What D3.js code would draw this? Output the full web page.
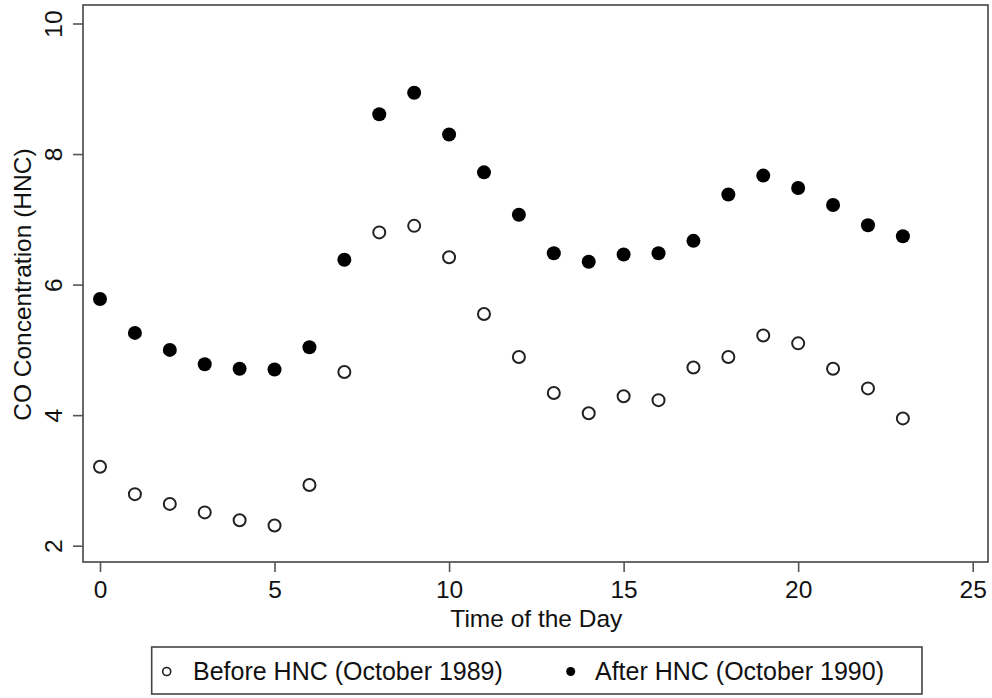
<!DOCTYPE html>
<html>
<head>
<meta charset="utf-8">
<script src="https://cdn.jsdelivr.net/npm/d3@7"></script>
<style>
    body { margin: 0; background: #fff; }
    text { font-family: "Liberation Sans", Arial, sans-serif; fill: #111; }
</style>
</head>
<body>
<div id="chart-ctn"></div>
<script>
// Data
let hours = [0, 1, 2, 3, 4, 5, 6, 7, 8, 9, 10, 11, 12, 13, 14, 15, 16, 17, 18, 19, 20, 21, 22, 23];
let before = [3.21, 2.79, 2.64, 2.51, 2.39, 2.31, 2.93, 4.66, 6.80, 6.90, 6.42, 5.55,
    4.89, 4.34, 4.03, 4.29, 4.23, 4.73, 4.89, 5.22, 5.10, 4.71, 4.41, 3.95];
let after = [5.78, 5.26, 5.00, 4.78, 4.71, 4.70, 5.04, 6.38, 8.61, 8.94, 8.30, 7.72,
    7.07, 6.48, 6.35, 6.46, 6.48, 6.67, 7.38, 7.67, 7.48, 7.22, 6.91, 6.74];
let xTicks = [0, 5, 10, 15, 20, 25];
let yTicks = [2, 4, 6, 8, 10];
let legendLabels = ["Before HNC (October 1989)", "After HNC (October 1990)"];

let width = 992;
let height = 698;

// plot region (frame)
let frame = { left: 83, right: 988, top: 5, bottom: 562 };

let svg = d3
    .select("#chart-ctn")
    .append("svg")
    .attr("width", width)
    .attr("height", height);

let x = d3.scaleLinear().domain([0, 25]).range([100, 972.7]);
let y = d3.scaleLinear().domain([2, 10]).range([545.7, 23.5]);

// frame
svg.append("rect")
    .attr("x", frame.left)
    .attr("y", frame.top)
    .attr("width", frame.right - frame.left)
    .attr("height", frame.bottom - frame.top)
    .attr("fill", "none")
    .attr("stroke", "#444")
    .attr("stroke-width", 1.6);

// y axis
let yAxis = svg.append("g")
    .attr("transform", `translate(${frame.left},0)`)
    .call(d3.axisLeft(y).tickValues(yTicks).tickSize(10).tickSizeOuter(0).tickFormat(d3.format("d")));
yAxis.select(".domain").remove();
yAxis.selectAll(".tick line").attr("stroke", "#555").attr("stroke-width", 1.6);
yAxis.selectAll(".tick text")
    .attr("x", null)
    .attr("dy", null)
    .attr("transform", "translate(-21,0) rotate(-90)")
    .attr("text-anchor", "middle")
    .style("font-size", "24.5px")
    .style("font-family", null)
    .attr("fill", "#111");

// x axis
let xAxis = svg.append("g")
    .attr("transform", `translate(0,${frame.bottom})`)
    .call(d3.axisBottom(x).tickValues(xTicks).tickSize(10).tickSizeOuter(0));
xAxis.select(".domain").remove();
xAxis.selectAll(".tick line").attr("stroke", "#555").attr("stroke-width", 1.6);
xAxis.selectAll(".tick text")
    .attr("y", 36)
    .attr("dy", null)
    .style("font-size", "24.5px")
    .style("font-family", null)
    .attr("fill", "#111");

// axis titles
svg.append("text")
    .attr("x", x(12.5))
    .attr("y", 627)
    .attr("text-anchor", "middle")
    .style("font-size", "24.5px")
    .text("Time of the Day");

svg.append("text")
    .attr("transform", `translate(31,${y(6)}) rotate(-90)`)
    .attr("text-anchor", "middle")
    .style("font-size", "24.5px")
    .text("CO Concentration (HNC)");

// points
svg.append("g")
    .selectAll("circle")
    .data(hours)
    .join("circle")
    .attr("cx", (d) => x(d))
    .attr("cy", (d, i) => y(before[i]))
    .attr("r", 6)
    .attr("fill", "#fff")
    .attr("stroke", "#222")
    .attr("stroke-width", 2);

svg.append("g")
    .selectAll("circle")
    .data(hours)
    .join("circle")
    .attr("cx", (d) => x(d))
    .attr("cy", (d, i) => y(after[i]))
    .attr("r", 7)
    .attr("fill", "#000");

// legend
let legend = svg.append("g");
legend.append("rect")
    .attr("x", 151.7)
    .attr("y", 647)
    .attr("width", 922 - 151.7)
    .attr("height", 47)
    .attr("fill", "#fff")
    .attr("stroke", "#444")
    .attr("stroke-width", 1.6);

legend.append("circle")
    .attr("cx", 166.7)
    .attr("cy", 671.5)
    .attr("r", 4)
    .attr("fill", "#fff")
    .attr("stroke", "#222")
    .attr("stroke-width", 1.6);
legend.append("text")
    .attr("x", 193)
    .attr("y", 680)
    .style("font-size", "25px")
    .text(legendLabels[0]);

legend.append("circle")
    .attr("cx", 570.7)
    .attr("cy", 671.5)
    .attr("r", 4.5)
    .attr("fill", "#000");
legend.append("text")
    .attr("x", 595)
    .attr("y", 680)
    .style("font-size", "25px")
    .text(legendLabels[1]);
</script>
</body>
</html>
